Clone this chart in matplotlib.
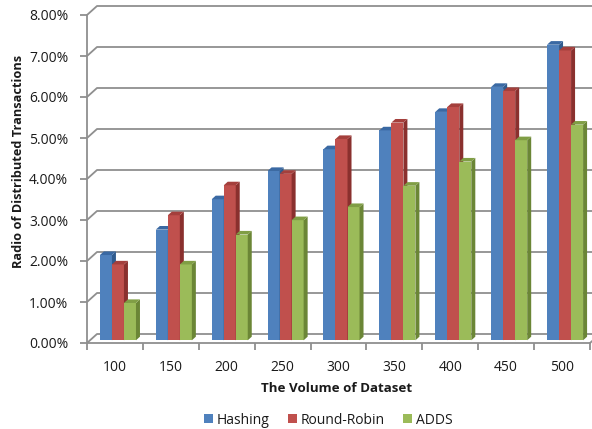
import matplotlib
matplotlib.use("Agg")
import matplotlib.pyplot as plt
from matplotlib.patches import Polygon, Patch

# Data
categories = ["100", "150", "200", "250", "300", "350", "400", "450", "500"]
series_names = ["Hashing", "Round-Robin", "ADDS"]
hashing = [2.08, 2.70, 3.44, 4.13, 4.66, 5.12, 5.57, 6.18, 7.21]
round_robin = [1.85, 3.05, 3.78, 4.06, 4.91, 5.31, 5.69, 6.08, 7.07]
adds = [0.91, 1.85, 2.58, 2.93, 3.25, 3.77, 4.36, 4.88, 5.26]
y_ticks = [0, 1, 2, 3, 4, 5, 6, 7, 8]

# Styling for the pseudo-3D columns: (front, side, top)
face_colors = [
    ("#4F81BD", "#2F5B8E", "#3A69A3"),
    ("#C0504D", "#8A302E", "#A43F3C"),
    ("#9BBB59", "#6B8636", "#809E45"),
]
grid_color = "#8F8F8F"
text_color = "#1A1A1A"
font = "Open Sans"

plt.rcParams["font.family"] = [font, "DejaVu Sans"]
plt.rcParams["font.size"] = 10

W, H = 592, 429
fig = plt.figure(figsize=(W / 100, H / 100), dpi=100)
fig.patch.set_facecolor("white")
ax = fig.add_axes([87 / W, 86 / H, 503 / W, 328 / H])

n = len(categories)
ax.set_xlim(0, n)
ax.set_ylim(0, y_ticks[-1])

# depth of the wall/floor in data units
DX = 10 / (503 / n)
DY = 9 / (328 / y_ticks[-1])

# back wall gridlines with left-wall diagonals
for v in y_ticks:
    ax.plot([0, DX, n + DX], [v, v + DY, v + DY], color=grid_color,
            lw=1.3, clip_on=False, zorder=1, solid_capstyle="butt")
# floor right edge
ax.plot([n, n + DX], [0, DY], color=grid_color, lw=1.3, clip_on=False, zorder=1)

# columns
bar_w = 0.215
d0, d1 = 0.30, 0.70
all_series = [hashing, round_robin, adds]
for i in range(n):
    for s, vals in enumerate(all_series):
        front, side, top = face_colors[s]
        h = vals[i]
        x0 = i + 0.5 - 1.5 * bar_w + s * bar_w + d0 * DX
        y0 = d0 * DY
        x1 = x0 + bar_w
        y1 = y0 + h
        ox = (d1 - d0) * DX
        oy = (d1 - d0) * DY
        ax.add_patch(Polygon([(x0, y0), (x1, y0), (x1, y1), (x0, y1)],
                             closed=True, facecolor=front, edgecolor="none",
                             zorder=3 + s, clip_on=False))
        ax.add_patch(Polygon([(x1, y0), (x1 + ox, y0 + oy), (x1 + ox, y1 + oy), (x1, y1)],
                             closed=True, facecolor=side, edgecolor="none",
                             zorder=3 + s, clip_on=False))
        ax.add_patch(Polygon([(x0, y1), (x1, y1), (x1 + ox, y1 + oy), (x0 + ox, y1 + oy)],
                             closed=True, facecolor=top, edgecolor="none",
                             zorder=3 + s, clip_on=False))

# axes
for side_name in ["top", "right"]:
    ax.spines[side_name].set_visible(False)
for side_name in ["left", "bottom"]:
    ax.spines[side_name].set_color(grid_color)
    ax.spines[side_name].set_linewidth(1.3)
    ax.spines[side_name].set_zorder(2)
ax.set_facecolor("none")

ax.set_yticks(y_ticks)
ax.set_yticklabels([f"{v:.2f}%" for v in y_ticks])
ax.tick_params(axis="y", direction="out", length=5, width=1.3, color=grid_color,
               pad=8.5, labelcolor=text_color, labelsize=10)

ax.set_xticks(range(n + 1))
ax.set_xticklabels([])
ax.tick_params(axis="x", which="major", direction="out", length=5, width=1.3,
               color=grid_color)
ax.set_xticks([i + 0.5 for i in range(n)], minor=True)
ax.set_xticklabels(categories, minor=True)
ax.tick_params(axis="x", which="minor", length=0, pad=12,
               labelcolor=text_color, labelsize=10)

fig.text(337 / W, 1 - 389 / H, "The Volume of Dataset", ha="center", va="center",
         fontweight="bold", fontsize=9.6, color=text_color)
fig.text(19 / W, 1 - 161 / H, "Radio of Distributed Transactions", ha="center",
         va="center", rotation=90, fontweight="bold", fontsize=9.2, color=text_color)

handles = [Patch(facecolor=c[0], edgecolor="none", label=name)
           for c, name in zip(face_colors, series_names)]
fig.legend(handles=handles, loc="center", bbox_to_anchor=(328 / W, 1 - 420 / H),
           ncol=3, frameon=False, handlelength=0.65, handleheight=0.65,
           handletextpad=0.25, columnspacing=1.35, fontsize=10,
           labelcolor=text_color)

fig.savefig("out.png", dpi=100, facecolor="white")
